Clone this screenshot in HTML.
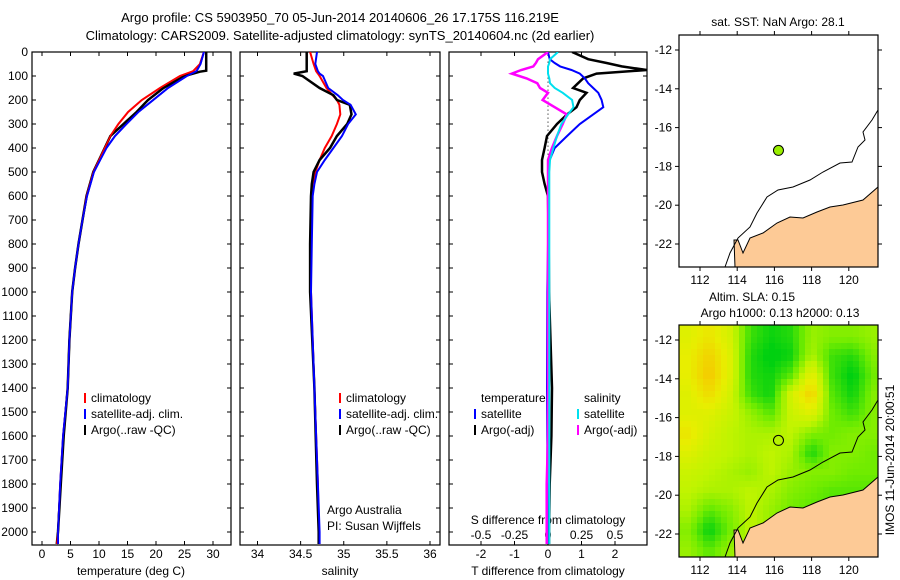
<!DOCTYPE html>
<html><head><meta charset="utf-8">
<style>
html,body{margin:0;padding:0;background:#fff;}
svg{display:block;font-family:"Liberation Sans",sans-serif;}
text{font-size:12px;fill:#000;}
</style></head>
<body>
<svg id="fig" width="900" height="580" viewBox="0 0 900 580" xmlns="http://www.w3.org/2000/svg">
<defs>
<clipPath id="c1"><rect x="32" y="52" width="199" height="493"/></clipPath>
<clipPath id="c2"><rect x="240" y="52" width="200" height="493"/></clipPath>
<clipPath id="c3"><rect x="449" y="52" width="198" height="493"/></clipPath>
<clipPath id="cm"><rect x="679" y="325" width="199" height="232"/></clipPath>
</defs>
<text x="340" y="22" text-anchor="middle" style="font-size:13px">Argo profile: CS 5903950_70 05-Jun-2014 20140606_26 17.175S 116.219E</text>
<text x="340" y="40" text-anchor="middle" style="font-size:13px">Climatology: CARS2009. Satellite-adjusted climatology: synTS_20140604.nc (2d earlier)</text>
<g id="root"></g>
<text transform="translate(894,460) rotate(-90)" text-anchor="middle">IMOS 11-Jun-2014 20:00:51</text>
</svg>
<script>
// ---------- data ----------
const depthGen = [0,50,80,100,150,200,250,300,350,400,450,500,600,700,800,900,1000,1200,1400,1600,1800,2000,2050];
const tempClim = [28.4,27.7,26.5,24.2,20.7,17.5,15.1,13.4,12,11,10,9,7.8,7.1,6.4,5.8,5.3,4.8,4.5,3.7,3.2,2.8,2.6];
const tempSat  = [28.4,27.8,27.1,25.4,22.1,19.5,16.9,14.8,12.8,11.3,10.2,9.1,7.9,7.1,6.4,5.8,5.3,4.8,4.5,3.7,3.2,2.8,2.8];
const depthArgoT = [0,78,82,100,150,200,250,300,350,400,450,500,600,700,800,900,1000,1200,1400,1600,1800,2000,2050];
const tempArgo = [28.8,28.8,27.7,25,21.3,18.6,16.6,14.3,12,11,10,9,7.8,7.1,6.4,5.8,5.3,4.8,4.5,3.8,3.3,2.8,2.6];
const depthSal = [0,50,80,90,100,150,180,200,220,260,300,350,400,450,500,550,600,800,1000,1400,1800,2000,2050];
const salArgo = [34.57,34.57,34.57,34.42,34.52,34.72,34.88,34.92,35.07,35.09,35.04,34.92,34.84,34.72,34.65,34.63,34.62,34.61,34.61,34.66,34.69,34.71,34.71];
const salClim = [34.61,34.65,34.68,34.7,34.72,34.8,34.87,34.92,34.95,34.96,34.92,34.86,34.78,34.72,34.67,34.65,34.63,34.62,34.62,34.66,34.70,34.71,34.72];
const salSat  = [34.69,34.67,34.7,34.72,34.76,34.82,34.93,34.99,35.08,35.14,35.05,34.98,34.88,34.78,34.69,34.66,34.64,34.63,34.62,34.66,34.70,34.72,34.72];
const depthDiff = [0,30,46,60,75,90,110,130,150,170,200,230,260,300,350,400,450,500,550,600,800,1000,1400,1600,1800,2000,2050];
const dTArgo = [0.72,1.2,1.75,2.2,2.95,1.45,1.05,0.9,0.75,1.15,0.95,0.85,0.57,0.27,-0.03,-0.1,-0.18,-0.18,-0.1,0,0.02,0.03,0.12,0.1,0.05,0.03,0.03];
const dTSat  = [0,0.05,0.2,0.36,0.7,0.95,1.1,1.2,1.35,1.5,1.6,1.65,1.35,0.95,0.57,0.2,0.05,0,0,0,0,-0.02,-0.03,-0.02,-0.02,-0.02,-0.02];
const dSSat  = [0.075,0.015,0.01,0,0,0,0.01,0.015,0.05,0.11,0.18,0.19,0.15,0.1,0.067,0.04,0.015,0.01,0.01,0.01,0.01,0.01,0.01,0.01,0.01,0.01,0.01];
const dSArgo = [0,-0.075,-0.09,-0.11,-0.2,-0.27,-0.16,-0.08,-0.06,0,-0.04,0.05,0.14,0.11,0.067,0.03,0,0,0,0,0,0,0,0,-0.01,-0.01,-0.01];
const depthTicks = [0,100,200,300,400,500,600,700,800,900,1000,1100,1200,1300,1400,1500,1600,1700,1800,1900,2000];
const tempTicks = [0,5,10,15,20,25,30];
const salTicks = [34,34.5,35,35.5,36];
const salTickLabels = ["34","34.5","35","35.5","36"];
const dTTicks = [-2,-1,0,1,2];
const dSTicks = [-0.5,-0.25,0,0.25,0.5];
const dSTickLabels = ["-0.5","-0.25","0","0.25","0.5"];
const lonTicks = [112,114,116,118,120];
const latTicks = [-12,-14,-16,-18,-20,-22];
const argoLon = 116.219, argoLat = -17.175;
// SLA field (rows north->south, cols west->east), + = green, - = orange
const slaLats = [-11.8,-12.8,-13.8,-14.8,-15.8,-16.8,-17.7,-18.7,-19.7,-20.7,-21.7,-22.7];
const slaLons = [111.4,112.5,113.6,114.6,115.7,116.8,117.8,118.9,120,121.1];
const slaVals = [
 [-0.3,-0.5,-0.2,0.6,0.8,0.7,0.2,0.3,0.3,0.2],
 [-0.4,-0.7,-0.3,0.7,0.9,0.8,0.1,0.6,0.7,0.3],
 [-0.4,-0.8,-0.3,0.7,0.8,0.5,-0.4,0.6,0.9,0.4],
 [-0.3,-0.6,-0.2,0.6,0.8,-0.2,-0.7,0.5,0.8,0.3],
 [-0.3,-0.3,-0.1,0.2,0.5,-0.1,-0.3,0.4,0.6,0.3],
 [-0.5,-0.2,0,0.1,0.1,0,0.3,0.4,0.3,0.3],
 [-0.3,-0.1,0,0.1,0,0.1,0.75,0.3,0.3,0.4],
 [-0.1,0,0.1,0.2,0,0.2,0.3,0.3,0.4,0.4],
 [0,0.1,0.1,0,0.1,0.3,0.4,0.5,0.5,0.5],
 [0.1,0.5,0.3,0,0.2,0.4,0.5,0.5,0.5,0.5],
 [0.3,0.85,0.4,0,0.2,0.4,0.5,0.5,0.5,0.5],
 [0.2,0.5,0.2,0,0.2,0.4,0.5,0.5,0.5,0.5]];

// ---------- helpers ----------
const NS="http://www.w3.org/2000/svg";
const root=document.getElementById('root');
function mk(tag,attrs,parent){const e=document.createElementNS(NS,tag);for(const k in attrs)e.setAttribute(k,attrs[k]);(parent||root).appendChild(e);return e;}
const yD=d=>52+d*0.24;
const xT=t=>42+t*5.7;
const xS=s=>257.5+(s-34)*86.25;
const xTd=v=>548+v*33.5;
const xSd=v=>548+v*134;
function line(xs,ds,fx,color,w,clip,name){
  const pts=xs.map((v,i)=>fx(v).toFixed(1)+','+yD(ds[i]).toFixed(1)).join(' ');
  const p=mk('polyline',{points:pts,fill:'none',stroke:color,'stroke-width':w,'clip-path':'url(#'+clip+')','stroke-linejoin':'miter'});
  
  
}
function txt(x,y,s,anchor,name){const t=mk('text',{x:x,y:y,'text-anchor':anchor||'start'});t.textContent=s;
  
  return t;}
function frame(x,y,w,h,name){const r=mk('rect',{x:x,y:y,width:w,height:h,fill:'none',stroke:'#000','stroke-width':1.2});
  
  }
function seg(x1,y1,x2,y2,w){mk('line',{x1:x1,y1:y1,x2:x2,y2:y2,stroke:'#000','stroke-width':w||1});}

// ---------- profile panels ----------
const panels=[[32,199,'temperature-panel'],[240,200,'salinity-panel'],[449,198,'difference-panel']];
panels.forEach(p=>{
  frame(p[0],52,p[1],493,p[2]);
  depthTicks.forEach(d=>{seg(p[0],yD(d),p[0]+4,yD(d));seg(p[0]+p[1],yD(d),p[0]+p[1]-4,yD(d));});
});
depthTicks.forEach(d=>txt(28,yD(d)+4,String(d),'end','depth-tick-label'));
tempTicks.forEach(t=>{seg(xT(t),52,xT(t),56);seg(xT(t),545,xT(t),541);txt(xT(t),558,String(t),'middle','temperature-tick-label');});
salTicks.forEach((s,i)=>{seg(xS(s),52,xS(s),56);seg(xS(s),545,xS(s),541);txt(xS(s),558,salTickLabels[i],'middle','salinity-tick-label');});
dTTicks.forEach(t=>{seg(xTd(t),52,xTd(t),56);seg(xTd(t),545,xTd(t),541);txt(xTd(t),558,String(t),'middle','t-diff-tick-label');});
dSTicks.forEach((s,i)=>txt(xSd(s),539,dSTickLabels[i],'middle','s-diff-tick-label'));
txt(131,575,'temperature (deg C)','middle','temperature-axis-title');
txt(340,575,'salinity','middle','salinity-axis-title');
txt(548,575,'T difference from climatology','middle','t-diff-axis-title');
txt(548,524,'S difference from climatology','middle','s-diff-axis-title');

// zero line
const z=mk('line',{x1:548,y1:yD(40),x2:548,y2:yD(600),stroke:'#000','stroke-width':1,'stroke-dasharray':'1,3'});



line(tempClim,depthGen,xT,'#ff0000',2,'c1','temp-climatology-line');
line(tempSat,depthGen,xT,'#0000ff',2,'c1','temp-satellite-line');
line(tempArgo,depthArgoT,xT,'#000',2.5,'c1','temp-argo-line');
line(tempClim,depthGen,xT,'#ff0000',1.5,'c1','temp-climatology-line-top');
line(tempSat,depthGen,xT,'#0000ff',1.8,'c1','temp-satellite-line-top');

line(salClim,depthSal,xS,'#ff0000',2,'c2','sal-climatology-line');
line(salArgo,depthSal,xS,'#000',2.5,'c2','sal-argo-line');
line(salSat,depthSal,xS,'#0000ff',2,'c2','sal-satellite-line');

line(dTArgo,depthDiff,xTd,'#000',2.5,'c3','t-diff-argo-line');
line(dTSat,depthDiff,xTd,'#0000ff',2,'c3','t-diff-satellite-line');
line(dSArgo,depthDiff,xSd,'#ff00ff',2.5,'c3','s-diff-argo-line');
line(dSSat,depthDiff,xSd,'#00e0ee',2,'c3','s-diff-satellite-line');

// legends
function leg(x,y,color,label,name){
  const b=mk('rect',{x:x,y:y-9,width:2,height:10,fill:color});
  
  
  txt(x+7,y,label,'start',name);
}
leg(84,402,'#ff0000','climatology','legend-climatology');
leg(84,418,'#0000ff','satellite-adj. clim.','legend-satellite');
leg(84,434,'#000','Argo(..raw -QC)','legend-argo');
leg(339,402,'#ff0000','climatology','legend-climatology-sal');
leg(339,418,'#0000ff','satellite-adj. clim.','legend-satellite-sal');
leg(339,434,'#000','Argo(..raw -QC)','legend-argo-sal');
txt(481,402,'temperature','start','legend-temperature-heading');
txt(584,402,'salinity','start','legend-salinity-heading');
leg(474,418,'#0000ff','satellite','legend-t-satellite');
leg(474,434,'#000','Argo(-adj)','legend-t-argo');
leg(577,418,'#00e0ee','satellite','legend-s-satellite');
leg(577,434,'#ff00ff','Argo(-adj)','legend-s-argo');
txt(327,514,'Argo Australia','start','credit-argo-australia');
txt(327,530,'PI: Susan Wijffels','start','credit-pi');

// ---------- maps ----------
const mx=lon=>700+(lon-112)*18.6;
const my=(lat,off)=>50+off+(-12-lat)*19.4;
const landPts="734,240 738,240 743,253 750,238 763,233 777,223 790,217 803,218 817,212 830,207 843,205 863,200 878,187 878,267 735,267";
const contourPts="725,267 730,253 738,238 750,227 757,213 767,197 778,190 793,187 810,180 823,172 840,163 852,162 858,147 865,140 863,132 872,120 878,110";
function colorFor(v){
  const stops=[[-0.8,[245,200,0]],[-0.4,[232,238,0]],[0,[192,244,0]],[0.4,[112,236,0]],[0.85,[0,208,16]]];
  if(v<=stops[0][0])return 'rgb('+stops[0][1]+')';
  for(let i=1;i<stops.length;i++){if(v<=stops[i][0]){const a=stops[i-1],b=stops[i],f=(v-a[0])/(b[0]-a[0]);
    return 'rgb('+a[1].map((c,k)=>Math.round(c+(b[1][k]-c)*f)).join(',')+')';}}
  return 'rgb('+stops[stops.length-1][1]+')';
}
function slaAt(lon,lat){
  let fi=(lon-slaLons[0])/(slaLons[1]-slaLons[0]);let fj=(slaLats[0]-lat)/(slaLats[0]-slaLats[1]);
  fi=Math.max(0,Math.min(slaLons.length-1.001,fi));fj=Math.max(0,Math.min(slaLats.length-1.001,fj));
  const i=Math.floor(fi),j=Math.floor(fj),a=fi-i,b=fj-j;
  return slaVals[j][i]*(1-a)*(1-b)+slaVals[j][i+1]*a*(1-b)+slaVals[j+1][i]*(1-a)*b+slaVals[j+1][i+1]*a*b;
}
[[0,'sst-map'],[290,'sla-map']].forEach(([off,name])=>{
  const g=mk('g',{});
  
  
  if(off){
    const hg=mk('g',{'clip-path':'url(#cm)'},g);
    
    
    for(let y=325;y<557;y+=6){for(let x=679;x<878;x+=6){
      const lon=112+(x+3-700)/18.6, lat=-12-(y+3-50-off)/19.4;
      const c=mk('rect',{x:x,y:y,width:6,height:6,fill:colorFor(slaAt(lon,lat))},hg);
      
      
    }}
  }
  const gg=mk('g',{transform:'translate(0,'+off+')'},g);
  const land=mk('polygon',{points:landPts,fill:'#fdca96',stroke:off?'#000':'#000','stroke-width':1},gg);
  
  
  const ct=mk('polyline',{points:contourPts,fill:'none',stroke:'#000','stroke-width':1},gg);
  
  
  const fr=mk('rect',{x:679,y:35,width:199,height:232,fill:'none',stroke:'#000','stroke-width':1.2},gg);
  
  
  const dot=mk('circle',{cx:mx(argoLon),cy:my(argoLat,0),r:5,fill:off?'none':'#99ee00',stroke:'#000','stroke-width':1},gg);
  
  
  lonTicks.forEach(l=>{seg(mx(l),35+off,mx(l),31+off);seg(mx(l),267+off,mx(l),271+off);
    txt(mx(l),284+off,String(l),'middle','longitude-tick-label');});
  latTicks.forEach(l=>{seg(679,my(l,off),675,my(l,off));seg(878,my(l,off),882,my(l,off));
    txt(672,my(l,off)+4,String(l),'end','latitude-tick-label');});
});
txt(778,26,'sat. SST: NaN Argo: 28.1','middle','sst-map-title');
txt(752,301,'Altim. SLA: 0.15','middle','sla-map-title');
txt(780,317,'Argo h1000: 0.13 h2000: 0.13','middle','sla-map-subtitle');
</script>
</body></html>
